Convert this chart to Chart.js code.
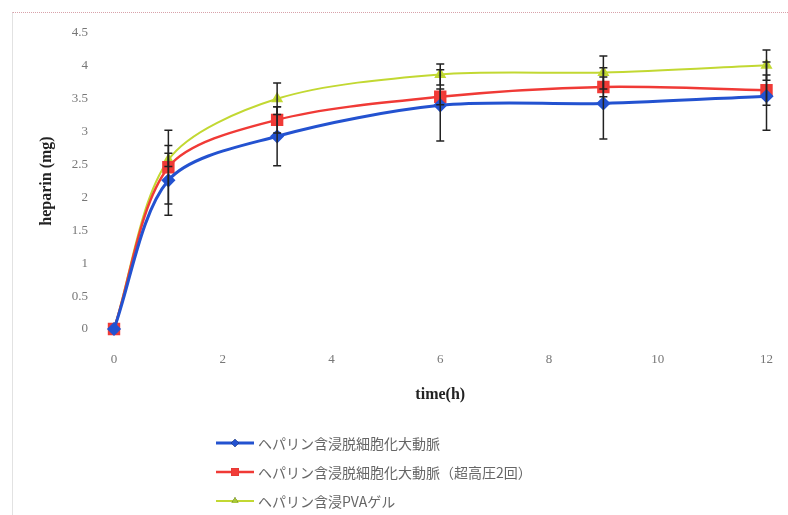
<!DOCTYPE html>
<html>
<head>
<meta charset="utf-8">
<script src="https://cdn.jsdelivr.net/npm/chart.js@4/dist/chart.umd.min.js"></script>
<style>
  body { margin: 0; background: #fff; }
  #wrap { position: relative; width: 788px; height: 515px; }
  #frame { position: absolute; left: 12px; top: 12px; right: 0; bottom: 0;
           border-top: 1px dotted #d8a2aa; border-left: 1px solid #e2e2e2; }
  #legend { position: absolute; left: 216px; top: 428px;
            font-family: "Noto Sans CJK JP", sans-serif; font-size: 14px; color: #666; }
  #legend div { height: 29px; display: flex; align-items: center; }
  #legend canvas { margin-right: 4px; }
</style>
</head>
<body>
<div id="wrap">
  <div id="frame"></div>
  <canvas id="c" width="788" height="515"></canvas>
  <div id="legend"></div>
</div>
<script>
// 時間 (h)
const tiempos = [0, 1, 3, 6, 9, 12];
// ヘパリン量 (mg)
const aortaValores = [0, 2.26, 2.93, 3.40, 3.43, 3.54];
const aortaPresionValores = [0, 2.46, 3.18, 3.53, 3.68, 3.63];
const pvaValores = [0, 2.57, 3.50, 3.87, 3.90, 4.01];
// desviaciones
const aortaError = [0, 0.53, 0.45, 0.54, 0.54, 0.52];
const aortaPresionError = [0, 0.56, 0.20, 0.12, 0.15, 0.23];
const pvaError = [0, 0.10, 0.24, 0.16, 0.25, 0.23];
const etiquetasY = ['0', '0.5', '1', '1.5', '2', '2.5', '3', '3.5', '4', '4.5'];
const nombres = [
  'ヘパリン含浸脱細胞化大動脈',
  'ヘパリン含浸脱細胞化大動脈（超高圧2回）',
  'ヘパリン含浸PVAゲル'
];

const serie = (vals) => tiempos.map((t, i) => ({ x: t, y: vals[i] }));

// Plugin para dibujar barras de error
const barrasError = {
  id: 'barrasError',
  afterDatasetsDraw(chart) {
    const ctx = chart.ctx;
    const xs = chart.scales.x, ys = chart.scales.y;
    ctx.save();
    ctx.strokeStyle = '#222';
    ctx.lineWidth = 1.5;
    chart.data.datasets.forEach(ds => {
      ds.data.forEach((p, i) => {
        const e = ds.errores[i];
        if (!e) return;
        const px = xs.getPixelForValue(p.x);
        const top = ys.getPixelForValue(p.y + e);
        const bot = ys.getPixelForValue(p.y - e);
        ctx.beginPath();
        ctx.moveTo(px, top); ctx.lineTo(px, bot);
        ctx.moveTo(px - 4, top); ctx.lineTo(px + 4, top);
        ctx.moveTo(px - 4, bot); ctx.lineTo(px + 4, bot);
        ctx.stroke();
      });
    });
    ctx.restore();
  }
};

const chart = new Chart(document.getElementById('c'), {
  type: 'line',
  data: {
    datasets: [
      { label: nombres[0], data: serie(aortaValores), errores: aortaError,
        borderColor: '#2352d0', backgroundColor: '#2352d0', borderWidth: 3,
        pointStyle: 'rectRot', pointRadius: 5, tension: 0.3 },
      { label: nombres[1], data: serie(aortaPresionValores), errores: aortaPresionError,
        borderColor: '#f03a36', backgroundColor: '#f23c38', borderWidth: 2.5,
        pointStyle: 'rect', pointRadius: 7, tension: 0.3 },
      { label: nombres[2], data: serie(pvaValores), errores: pvaError,
        borderColor: '#c2d832', backgroundColor: '#a8c83a', borderWidth: 2,
        pointStyle: 'triangle', pointRadius: 5, tension: 0.3 }
    ]
  },
  options: {
    responsive: false,
    animation: false,
    clip: false,
    layout: { padding: { left: 12, top: 33, right: 20, bottom: 106 } },
    plugins: { legend: { display: false }, tooltip: { enabled: false } },
    scales: {
      x: {
        type: 'linear', min: 0, max: 12,
        grid: { display: false }, border: { display: false },
        ticks: { stepSize: 2, padding: 15, color: '#777',
                 font: { family: 'Liberation Serif', size: 13 } },
        title: { display: true, text: 'time(h)', color: '#222',
                 font: { family: 'Liberation Serif', size: 16, weight: 'bold' },
                 padding: { top: 0, bottom: 5 } },
        afterFit: s => { s.height = 80; }
      },
      y: {
        min: 0, max: 4.5,
        grid: { display: false }, border: { display: false },
        ticks: { stepSize: 0.5, padding: 18, color: '#777',
                 font: { family: 'Liberation Serif', size: 13 },
                 callback: (v, i) => etiquetasY[i] },
        title: { display: true, text: 'heparin (mg)', color: '#222',
                 font: { family: 'Liberation Serif', size: 16, weight: 'bold' },
                 padding: { top: 25, bottom: 0 } },
        afterFit: s => { s.width = 102; }
      }
    }
  },
  plugins: [barrasError]
});

// Leyenda HTML, una serie por línea
const leyenda = document.getElementById('legend');
chart.data.datasets.forEach(ds => {
  const fila = document.createElement('div');
  const muestra = document.createElement('canvas');
  muestra.width = 38; muestra.height = 14;
  const g = muestra.getContext('2d');
  g.strokeStyle = ds.borderColor; g.lineWidth = ds.borderWidth;
  g.beginPath(); g.moveTo(0, 7); g.lineTo(38, 7); g.stroke();
  Chart.helpers.drawPoint(g, { pointStyle: ds.pointStyle, radius: ds.pointRadius * 0.8, borderWidth: 0 }, 19, 7);
  g.fillStyle = ds.backgroundColor;
  g.fill();
  fila.appendChild(muestra);
  fila.appendChild(document.createTextNode(ds.label));
  leyenda.appendChild(fila);
});
</script>
</body>
</html>
